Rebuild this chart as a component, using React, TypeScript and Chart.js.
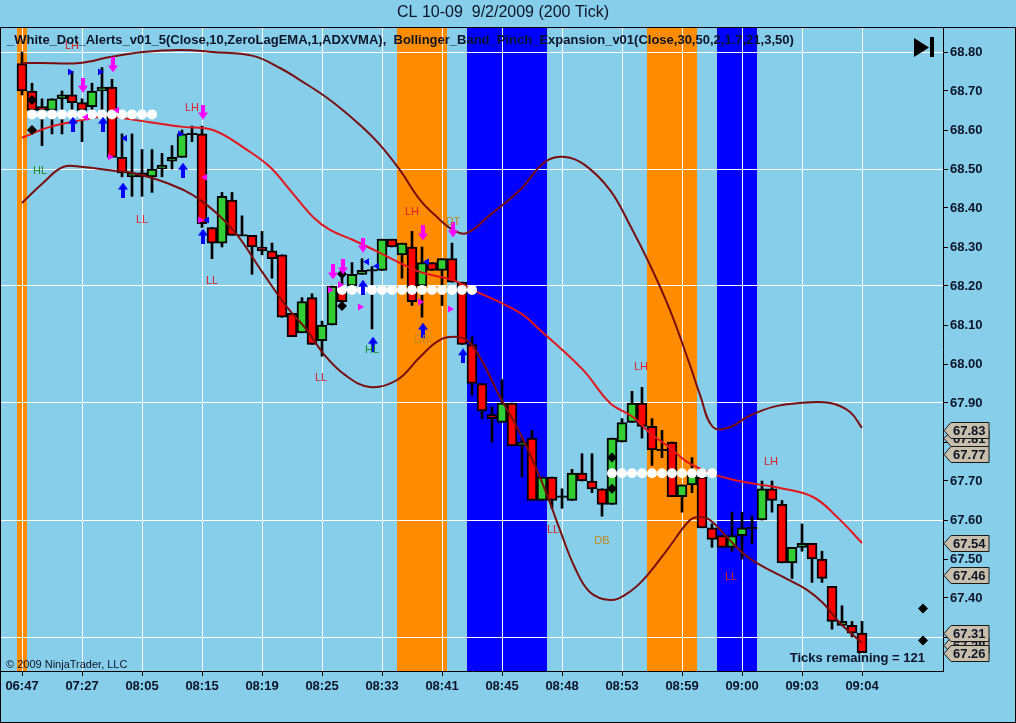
import React, { useEffect, useRef } from 'react';
import { Chart, registerables } from 'chart.js';

Chart.register(...registerables);

const WIDTH = 1016;
const HEIGHT = 723;

const TITLE = 'CL 10-09  9/2/2009 (200 Tick)';
const INDICATOR_TEXT =
  '_White_Dot_Alerts_v01_5(Close,10,ZeroLagEMA,1,ADXVMA),  Bollinger_Band_Pinch_Expansion_v01(Close,30,50,2,1.7,21,3,50)';
const COPYRIGHT = '\u00A9 2009 NinjaTrader, LLC';
const TICKS_REMAINING = 'Ticks remaining = 121';

// ---- candles (one per 200-tick bar) ----
const opens = [
  68.77, 68.70, 68.66, 68.65, 68.68, 68.69, 68.67, 68.66, 68.70, 68.71,
  68.53, 68.48, 68.49, 68.48, 68.50, 68.52, 68.53, 68.59, 68.59, 68.35,
  68.31, 68.42, 68.33, 68.33, 68.30, 68.29, 68.28, 68.13, 68.08, 68.17,
  68.06, 68.10, 68.19, 68.20, 68.23, 68.24, 68.24, 68.32, 68.28, 68.30,
  68.20, 68.26, 68.24, 68.27, 68.21, 68.05, 67.95, 67.87, 67.85, 67.90,
  67.79, 67.81, 67.65, 67.71, 67.66, 67.65, 67.72, 67.70, 67.68, 67.64,
  67.80, 67.85, 67.90, 67.84, 67.78, 67.80, 67.66, 67.69, 67.71, 67.58,
  67.56, 67.53, 67.56, 67.58, 67.60, 67.68, 67.64, 67.49, 67.53, 67.54,
  67.50, 67.43, 67.33, 67.33, 67.31,
];
const highs = [
  68.80, 68.72, 68.68, 68.68, 68.70, 68.75, 68.68, 68.72, 68.76, 68.73,
  68.59, 68.59, 68.55, 68.55, 68.54, 68.56, 68.60, 68.61, 68.61, 68.35,
  68.44, 68.44, 68.38, 68.33, 68.34, 68.31, 68.28, 68.13, 68.17, 68.18,
  68.11, 68.20, 68.23, 68.26, 68.27, 68.25, 68.32, 68.32, 68.31, 68.34,
  68.30, 68.26, 68.27, 68.31, 68.21, 68.07, 67.95, 67.89, 67.96, 67.90,
  67.81, 67.83, 67.71, 67.71, 67.68, 67.73, 67.77, 67.77, 67.68, 67.81,
  67.86, 67.93, 67.94, 67.86, 67.83, 67.80, 67.69, 67.76, 67.71, 67.59,
  67.56, 67.62, 67.62, 67.61, 67.70, 67.70, 67.65, 67.53, 67.59, 67.54,
  67.52, 67.43, 67.38, 67.34, 67.34,
];
const lows = [
  68.69, 68.64, 68.56, 68.59, 68.59, 68.63, 68.57, 68.64, 68.63, 68.53,
  68.48, 68.43, 68.43, 68.44, 68.48, 68.50, 68.53, 68.57, 68.35, 68.27,
  68.30, 68.33, 68.33, 68.23, 68.28, 68.22, 68.12, 68.07, 68.08, 68.05,
  68.02, 68.10, 68.15, 68.20, 68.23, 68.09, 68.24, 68.30, 68.22, 68.15,
  68.12, 68.24, 68.15, 68.21, 68.05, 67.92, 67.86, 67.80, 67.85, 67.79,
  67.71, 67.65, 67.65, 67.63, 67.63, 67.65, 67.70, 67.67, 67.61, 67.64,
  67.80, 67.85, 67.81, 67.74, 67.76, 67.66, 67.62, 67.67, 67.58, 67.53,
  67.53, 67.52, 67.50, 67.54, 67.60, 67.62, 67.49, 67.45, 67.52, 67.44,
  67.44, 67.32, 67.33, 67.30, 67.26,
];
const closes = [
  68.70, 68.65, 68.65, 68.68, 68.69, 68.67, 68.65, 68.70, 68.71, 68.53,
  68.49, 68.49, 68.48, 68.50, 68.51, 68.53, 68.59, 68.59, 68.36, 68.31,
  68.43, 68.33, 68.33, 68.30, 68.29, 68.27, 68.12, 68.07, 68.16, 68.05,
  68.10, 68.20, 68.16, 68.23, 68.24, 68.24, 68.32, 68.30, 68.31, 68.16,
  68.26, 68.24, 68.27, 68.21, 68.05, 67.95, 67.88, 67.86, 67.90, 67.79,
  67.80, 67.65, 67.71, 67.65, 67.66, 67.72, 67.70, 67.68, 67.64, 67.81,
  67.85, 67.90, 67.84, 67.78, 67.78, 67.66, 67.69, 67.72, 67.58, 67.55,
  67.53, 67.56, 67.58, 67.58, 67.68, 67.65, 67.49, 67.53, 67.54, 67.50,
  67.45, 67.34, 67.34, 67.31, 67.26,
];

// ---- x axis labels (bar index -> time) ----
const xTickBars = [0, 6, 12, 18, 24, 30, 36, 42, 48, 54, 60, 66, 72, 78, 84];
const xTickLabels = [
  '06:47', '07:27', '08:05', '08:15', '08:19', '08:25', '08:33', '08:41',
  '08:45', '08:48', '08:53', '08:59', '09:00', '09:03', '09:04',
];
// ---- y axis ----
const yTickValues = [67.3, 67.4, 67.5, 67.6, 67.7, 67.8, 67.9, 68.0, 68.1, 68.2, 68.3, 68.4, 68.5, 68.6, 68.7, 68.8];
const yGridValues = [67.3, 67.6, 67.9, 68.2, 68.5, 68.8];

// ---- Bollinger bands (bar position, price) ----
const upperX = [0, 1.8, 5.8, 8.8, 12.1, 15.8, 19.1, 23.1, 25.8, 27.8, 30.8, 33.8, 35.8, 37.8, 39.8, 41.5, 43.1, 44.5, 46.8, 49.8, 52.3, 54.3, 56.3, 58.8, 60.8, 62.8, 64.8, 66.8, 67.8, 69.1, 70.8, 72.5, 75.1, 77.8, 80.8, 82.8, 84];
const upperY = [68.772, 68.772, 68.772, 68.787, 68.80, 68.805, 68.80, 68.79, 68.759, 68.728, 68.677, 68.613, 68.562, 68.497, 68.421, 68.377, 68.344, 68.336, 68.382, 68.446, 68.518, 68.531, 68.510, 68.446, 68.356, 68.254, 68.138, 67.997, 67.921, 67.838, 67.838, 67.864, 67.890, 67.90, 67.90, 67.877, 67.836];
const middleX = [0, 2.8, 6.1, 8.8, 9.5, 12.8, 16.1, 19.1, 22.5, 24.8, 26.8, 29.1, 30.8, 33.1, 35.8, 37.8, 39.8, 43.1, 45.1, 49.8, 51.8, 56.1, 58.8, 61.1, 62.8, 64.8, 66.5, 68.8, 71.1, 73.5, 75.8, 79.1, 81.5, 84];
const middleY = [68.58, 68.608, 68.626, 68.638, 68.633, 68.62, 68.608, 68.60, 68.549, 68.505, 68.446, 68.377, 68.344, 68.318, 68.285, 68.259, 68.236, 68.215, 68.19, 68.131, 68.087, 67.985, 67.90, 67.864, 67.823, 67.785, 67.749, 67.721, 67.703, 67.692, 67.682, 67.659, 67.608, 67.541];
const lowerX = [0, 2.1, 4.1, 6.1, 8.8, 11.1, 14.5, 17.8, 21.1, 24.1, 26.5, 28.5, 30.1, 32.3, 34.8, 37.5, 39.8, 41.8, 43.6, 44.8, 46.1, 47.8, 49.5, 51.5, 52.8, 53.8, 55.3, 56.8, 58.8, 60.3, 62.1, 64.5, 66.8, 67.8, 68.8, 70.5, 72.1, 73.8, 76.1, 78.5, 80.1, 81.8, 84];
const lowerY = [68.413, 68.464, 68.505, 68.505, 68.497, 68.49, 68.464, 68.421, 68.344, 68.233, 68.146, 68.087, 68.028, 67.972, 67.941, 67.959, 68.018, 68.062, 68.069, 68.054, 68.003, 67.915, 67.838, 67.728, 67.644, 67.574, 67.477, 67.415, 67.395, 67.408, 67.446, 67.523, 67.60, 67.608, 67.60, 67.556, 67.515, 67.485, 67.454, 67.421, 67.387, 67.336, 67.285];

// ---- white dot runs ----
const whiteDotFrom = [1, 32, 59];
const whiteDotTo = [13, 45, 69];
const whiteDotPrice = [68.64, 68.19, 67.72];

// ---- black diamonds ----
const diamondX = [1, 1, 32, 32, 59, 59, 90.1, 90.1];
const diamondY = [68.677, 68.60, 68.231, 68.149, 67.76, 67.68, 67.373, 67.291];

// ---- arrows / triangles ----
const pinkDownX = [6.1, 9.1, 18.1, 31.1, 32.1, 34.1, 40.1, 43.1];
const pinkDownY = [68.715, 68.767, 68.646, 68.236, 68.249, 68.305, 68.336, 68.344];
const blueUpX = [5.1, 8.1, 10.1, 16.1, 18.1, 34.1, 35.1, 40.1, 44.1];
const blueUpY = [68.615, 68.615, 68.446, 68.497, 68.328, 68.197, 68.051, 68.087, 68.021];
const pinkRightX = [8.8, 17.8, 30.8, 31.8, 33.8, 39.8, 42.8];
const pinkRightY = [68.531, 68.369, 68.19, 68.203, 68.146, 68.159, 68.141];
const pinkLeftX = [6.4, 9.5, 18.3];
const pinkLeftY = [68.633, 68.651, 68.479];
const blueRightX = [4.8, 7.8, 15.8];
const blueRightY = [68.749, 68.749, 68.59];
const blueLeftX = [10.3, 18.5, 34.5, 35.5, 40.5];
const blueLeftY = [68.579, 68.369, 68.262, 68.251, 68.262];

// ---- swing labels ----
const signalText = ['LH', 'HL', 'LL', 'LH', 'LL', 'LL', 'HL', 'LH', 'DT', 'DB', 'LH', 'LL', 'DB', 'LH', 'LL'];
const signalX = [5, 1.8, 12, 17, 19, 29.9, 35, 39, 43.1, 40, 61.9, 53.1, 58, 74.9, 70.9];
const signalY = [68.815, 68.495, 68.369, 68.656, 68.213, 67.964, 68.036, 68.39, 68.364, 68.062, 67.992, 67.574, 67.546, 67.749, 67.454];

// ---- background bands (bar ranges) ----
const bandFrom = [0, 38, 45, 63, 70];
const bandTo = [0, 42, 52, 67, 73];
const bandColor = ['#FF8C00', '#FF8C00', '#0000FF', '#FF8C00', '#0000FF'];

// ---- right-axis price tags (draw order) ----
const priceTags = [67.81, 67.28, 67.83, 67.77, 67.54, 67.46, 67.31, 67.26];

const TEXT = '#0C1428';
const FONT = 'Arial, "Liberation Sans", sans-serif';

function makeArrow(color: string, dir: 'up' | 'down') {
  const c = document.createElement('canvas');
  c.width = 10;
  c.height = 15;
  const g = c.getContext('2d')!;
  g.fillStyle = color;
  g.beginPath();
  if (dir === 'down') {
    g.moveTo(3, 0); g.lineTo(7, 0); g.lineTo(7, 8); g.lineTo(10, 8);
    g.lineTo(5, 15); g.lineTo(0, 8); g.lineTo(3, 8);
  } else {
    g.moveTo(5, 0); g.lineTo(10, 7); g.lineTo(7, 7); g.lineTo(7, 15);
    g.lineTo(3, 15); g.lineTo(3, 7); g.lineTo(0, 7);
  }
  g.closePath();
  g.fill();
  return c;
}

const signalColor = (t: string) =>
  t === 'HL' ? '#1C8A1C' : t === 'DT' || t === 'DB' ? '#C08A18' : '#DC2028';

const pts = (xs: number[], ys: number[]) => xs.map((x, i) => ({ x, y: ys[i] }));

export default function App() {
  const ref = useRef<HTMLCanvasElement | null>(null);

  useEffect(() => {
    const canvas = ref.current;
    if (!canvas) return;

    const isDoji = (i: number) => Math.abs(opens[i] - closes[i]) < 0.005;
    const bodies = opens.map((o, i) => {
      const c = closes[i];
      if (isDoji(i)) return { x: i, y: [c - 0.002, c + 0.002] };
      return { x: i, y: [Math.min(o, c), Math.max(o, c)] };
    });
    const bodyColors = opens.map((o, i) =>
      isDoji(i) ? '#000000' : closes[i] > o ? '#32CD32' : '#FF0000'
    );
    const wicks = highs.map((h, i) => ({ x: i, y: [lows[i], h] }));

    const whiteDots: { x: number; y: number }[] = [];
    whiteDotFrom.forEach((f, k) => {
      for (let b = f; b <= whiteDotTo[k]; b++) whiteDots.push({ x: b, y: whiteDotPrice[k] });
    });

    const pinkDown = makeArrow('#FF00FF', 'down');
    const blueUp = makeArrow('#0000FF', 'up');

    const bgPlugin = {
      id: 'ninjaBg',
      beforeDraw(chart: any) {
        const { ctx, chartArea, scales } = chart;
        const xs = scales.x;
        ctx.save();
        ctx.fillStyle = '#87CEEB';
        ctx.fillRect(0, 0, WIDTH, HEIGHT);
        bandFrom.forEach((f, i) => {
          const x0 = Math.round(xs.getPixelForValue(f - 0.5));
          const x1 = Math.round(xs.getPixelForValue(bandTo[i] + 0.5));
          ctx.fillStyle = bandColor[i];
          ctx.fillRect(x0, chartArea.top, x1 - x0, chartArea.bottom - chartArea.top);
        });
        ctx.restore();
      },
      afterDatasetsDraw(chart: any) {
        const { ctx, scales } = chart;
        const xs = scales.x;
        const ys = scales.y;
        ctx.save();
        ctx.font = `11px ${FONT}`;
        ctx.textAlign = 'center';
        ctx.textBaseline = 'middle';
        signalText.forEach((t, i) => {
          ctx.fillStyle = signalColor(t);
          ctx.fillText(t, xs.getPixelForValue(signalX[i]), ys.getPixelForValue(signalY[i]));
        });
        ctx.restore();
      },
      afterDraw(chart: any) {
        const { ctx, chartArea, scales } = chart;
        const ys = scales.y;
        ctx.save();
        ctx.textBaseline = 'middle';
        // title
        ctx.fillStyle = TEXT;
        ctx.font = `16px ${FONT}`;
        ctx.textAlign = 'center';
        ctx.fillText(TITLE, 503, 13);
        // indicator text
        ctx.font = `bold 13px ${FONT}`;
        ctx.textAlign = 'left';
        ctx.fillText(INDICATOR_TEXT, 7, 40);
        // ticks remaining
        ctx.font = `bold 13px ${FONT}`;
        ctx.textAlign = 'right';
        ctx.fillText(TICKS_REMAINING, 925, 658);
        // copyright
        ctx.font = `11px ${FONT}`;
        ctx.textAlign = 'left';
        ctx.fillText(COPYRIGHT, 6, 665);
        // end icon
        ctx.fillStyle = '#000';
        ctx.beginPath();
        ctx.moveTo(914, 38);
        ctx.lineTo(929, 47.5);
        ctx.lineTo(914, 57);
        ctx.closePath();
        ctx.fill();
        ctx.fillRect(930, 37, 4, 20);
        // price tags
        const px = chartArea.right + 1;
        ctx.font = `bold 13px ${FONT}`;
        ctx.lineWidth = 1;
        priceTags.forEach((v) => {
          const py = Math.round(ys.getPixelForValue(v)) + 0.5;
          ctx.beginPath();
          ctx.moveTo(px, py);
          ctx.lineTo(px + 7, py - 8);
          ctx.lineTo(px + 45, py - 8);
          ctx.lineTo(px + 45, py + 8);
          ctx.lineTo(px + 7, py + 8);
          ctx.closePath();
          ctx.fillStyle = '#C8BEAC';
          ctx.fill();
          ctx.strokeStyle = '#1A1A1A';
          ctx.stroke();
          ctx.fillStyle = TEXT;
          ctx.textAlign = 'left';
          ctx.fillText(v.toFixed(2), px + 9, py + 1);
        });
        // frame
        ctx.strokeStyle = '#000';
        ctx.lineWidth = 1;
        ctx.beginPath();
        ctx.moveTo(0, 27.5);
        ctx.lineTo(WIDTH, 27.5);
        ctx.stroke();
        ctx.strokeRect(0.5, 27.5, WIDTH - 1, HEIGHT - 28);
        ctx.restore();
      },
    };

    const yMax = 67.4 + (598 - 27) / 390;
    const yMin = 67.4 - (671 - 598) / 390;

    const chart = new Chart(canvas, {
      type: 'bar',
      data: {
        datasets: [
          {
            type: 'bar',
            data: wicks as any,
            backgroundColor: '#000000',
            barThickness: 2,
            grouped: false,
            order: 10,
          } as any,
          {
            type: 'bar',
            data: bodies as any,
            backgroundColor: bodyColors,
            borderColor: '#000000',
            borderWidth: 2,
            borderSkipped: false,
            barThickness: 10,
            grouped: false,
            order: 9,
          } as any,
          {
            type: 'line',
            data: pts(upperX, upperY),
            borderColor: '#7A0E0E',
            borderWidth: 2,
            pointRadius: 0,
            tension: 0.4,
            order: 6,
          } as any,
          {
            type: 'line',
            data: pts(lowerX, lowerY),
            borderColor: '#7A0E0E',
            borderWidth: 2,
            pointRadius: 0,
            tension: 0.4,
            order: 6,
          } as any,
          {
            type: 'line',
            data: pts(middleX, middleY),
            borderColor: '#E3161C',
            borderWidth: 2,
            pointRadius: 0,
            tension: 0.4,
            order: 5,
          } as any,
          {
            type: 'scatter',
            data: whiteDots,
            pointStyle: 'circle',
            pointRadius: 5,
            pointBackgroundColor: '#FFFFFF',
            pointBorderColor: '#FFFFFF',
            pointBorderWidth: 0,
            order: 4,
          } as any,
          {
            type: 'scatter',
            data: pts(diamondX, diamondY),
            pointStyle: 'rectRot',
            pointRadius: 5,
            pointBackgroundColor: '#000000',
            pointBorderColor: '#000000',
            pointBorderWidth: 0,
            order: 3,
          } as any,
          {
            type: 'scatter',
            data: pts(pinkRightX, pinkRightY),
            pointStyle: 'triangle',
            rotation: 90,
            pointRadius: 4,
            pointBackgroundColor: '#FF00FF',
            pointBorderWidth: 0,
            order: 2,
          } as any,
          {
            type: 'scatter',
            data: pts(pinkLeftX, pinkLeftY),
            pointStyle: 'triangle',
            rotation: -90,
            pointRadius: 4,
            pointBackgroundColor: '#FF00FF',
            pointBorderWidth: 0,
            order: 2,
          } as any,
          {
            type: 'scatter',
            data: pts(blueRightX, blueRightY),
            pointStyle: 'triangle',
            rotation: 90,
            pointRadius: 4,
            pointBackgroundColor: '#0000FF',
            pointBorderWidth: 0,
            order: 2,
          } as any,
          {
            type: 'scatter',
            data: pts(blueLeftX, blueLeftY),
            pointStyle: 'triangle',
            rotation: -90,
            pointRadius: 4,
            pointBackgroundColor: '#0000FF',
            pointBorderWidth: 0,
            order: 2,
          } as any,
          {
            type: 'scatter',
            data: pts(pinkDownX, pinkDownY),
            pointStyle: pinkDown,
            pointRadius: 5,
            order: 1,
          } as any,
          {
            type: 'scatter',
            data: pts(blueUpX, blueUpY),
            pointStyle: blueUp,
            pointRadius: 5,
            order: 1,
          } as any,
        ],
      },
      options: {
        responsive: false,
        animation: false,
        devicePixelRatio: 1,
        events: [],
        layout: { autoPadding: false, padding: { left: 1, top: 27, right: 0, bottom: 0 } },
        plugins: {
          legend: { display: false },
          tooltip: { enabled: false },
          title: { display: false },
        },
        scales: {
          x: {
            type: 'linear',
            min: -2.1,
            max: 92.1,
            offset: false,
            afterBuildTicks: (scale: any) => {
              scale.ticks = xTickBars.map((v) => ({ value: v }));
            },
            afterFit: (scale: any) => {
              scale.height = HEIGHT - 671;
              scale.paddingLeft = 0;
              scale.paddingRight = 0;
            },
            grid: {
              offset: false,
              color: '#FFFFFF',
              lineWidth: 1,
              drawTicks: true,
              tickLength: 5,
              tickColor: '#000000',
            },
            border: { display: true, color: '#000000', width: 1 },
            ticks: {
              autoSkip: false,
              maxRotation: 0,
              padding: 3,
              color: TEXT,
              font: { family: FONT, size: 13, weight: 'bold' },
              callback: (v: any) => {
                const k = xTickBars.indexOf(Math.round(Number(v)));
                return k >= 0 ? xTickLabels[k] : '';
              },
            },
          },
          y: {
            type: 'linear',
            position: 'right',
            min: yMin,
            max: yMax,
            beginAtZero: false,
            afterBuildTicks: (scale: any) => {
              scale.ticks = yTickValues.map((v) => ({ value: v }));
            },
            afterFit: (scale: any) => {
              scale.width = WIDTH - 943;
              scale.paddingTop = 0;
              scale.paddingBottom = 0;
            },
            grid: {
              color: (c: any) => {
                const v = c.tick ? c.tick.value : NaN;
                return yGridValues.some((g) => Math.abs(g - v) < 1e-6) ? '#FFFFFF' : 'rgba(0,0,0,0)';
              },
              lineWidth: 1,
              drawTicks: true,
              tickLength: 5,
              tickColor: '#000000',
            },
            border: { display: true, color: '#000000', width: 1 },
            ticks: {
              padding: 2,
              color: TEXT,
              font: { family: FONT, size: 13, weight: 'bold' },
              callback: (v: any) => Number(v).toFixed(2),
            },
          },
        },
      } as any,
      plugins: [bgPlugin as any],
    });

    return () => chart.destroy();
  }, []);

  return (
    <div style={{ position: 'fixed', left: 0, top: 0, width: WIDTH, height: HEIGHT }}>
      <canvas ref={ref} width={WIDTH} height={HEIGHT} style={{ display: 'block' }} />
    </div>
  );
}
